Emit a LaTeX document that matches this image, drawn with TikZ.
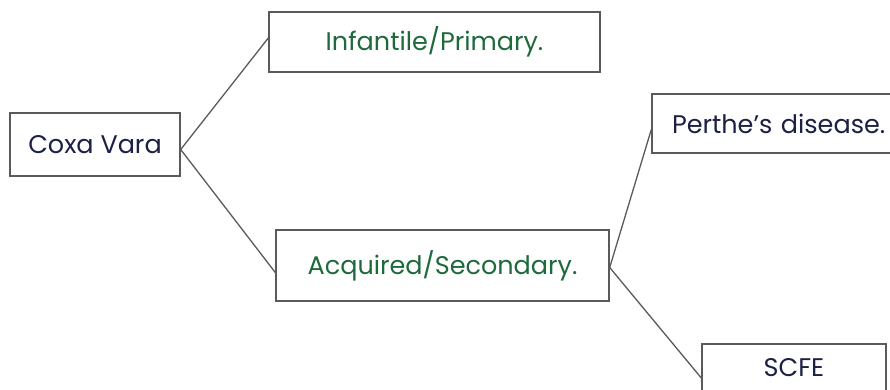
\documentclass[tikz,border=0pt]{standalone}
\usepackage{fontspec}
\setmainfont{Poppins}
\usetikzlibrary{calc}
\definecolor{navy}{HTML}{1C2045}
\definecolor{leaf}{HTML}{1E6A3C}
\definecolor{edge}{HTML}{5A5A5E}
\tikzset{
  box/.style={draw=edge, line width=1.4pt, fill=white, inner sep=0pt, font=\fontsize{25.5}{29}\selectfont},
  navytext/.style={text=navy},
  greentext/.style={text=leaf},
  link/.style={draw=edge, line width=1.3pt}
}
\begin{document}
\begin{tikzpicture}[x=1pt,y=-1pt]
\useasboundingbox (0,0) rectangle (890,389);
\clip (0,0) rectangle (890,389);
\fill[white] (0,0) rectangle (890,389);
\node[box, navytext, minimum width=170pt, minimum height=63pt] (coxa) at (95,144.5) {Coxa Vara};
\node[box, greentext, minimum width=331pt, minimum height=60pt] (inf) at (434.5,42) {Infantile/Primary.};
\node[box, greentext, minimum width=333pt, minimum height=71pt] (acq) at (442.5,265.5) {Acquired/Secondary.};
\node[box, navytext, minimum width=253pt, minimum height=59pt, text width=213pt, align=left] (per) at (778.5,123.5) {\raisebox{-3pt}{Perthe’s disease.}};
\node[box, navytext, minimum width=184pt, minimum height=48pt] (scfe) at (794,368) {SCFE};
\draw[link] ([yshift=-5pt]coxa.east) -- ([yshift=4pt]inf.west);
\draw[link] ([yshift=-5pt]coxa.east) -- ([yshift=-7pt]acq.west);
\draw[link] ([yshift=-2pt]acq.east) -- ([yshift=-6pt]per.west);
\draw[link] ([yshift=-2pt]acq.east) -- ([yshift=-10pt]scfe.west);
\end{tikzpicture}
\end{document}
